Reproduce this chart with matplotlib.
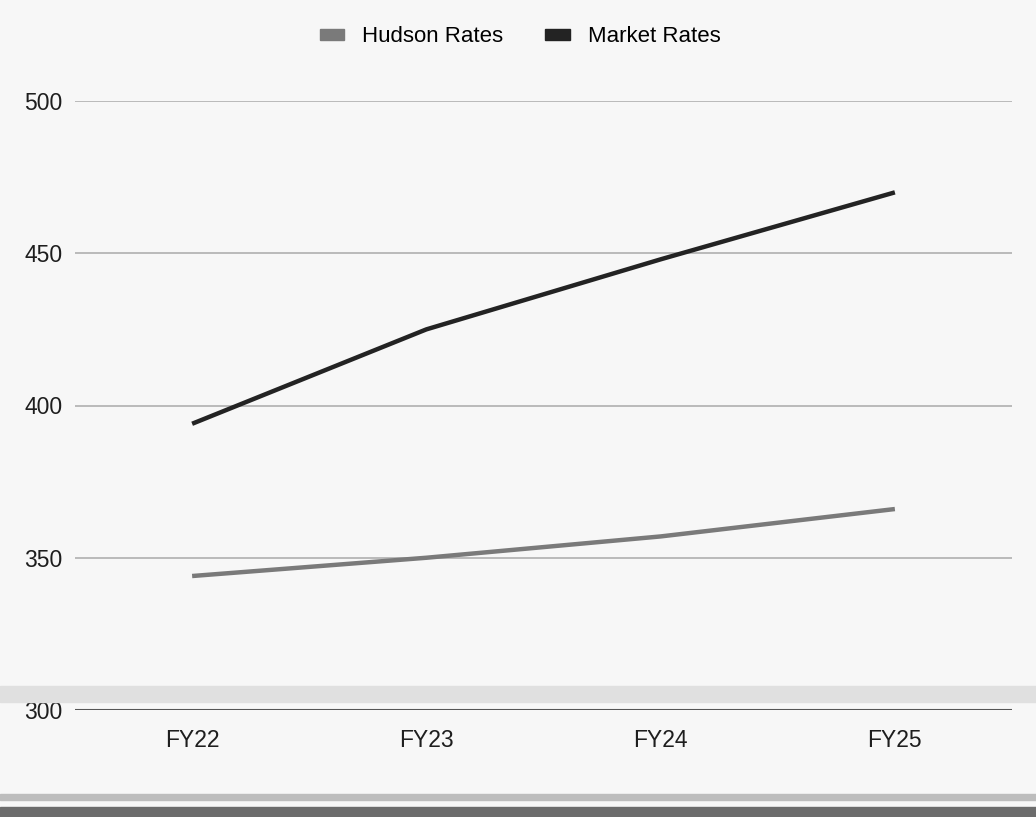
import matplotlib.pyplot as plt
from matplotlib.patches import Patch, Rectangle

plt.rcParams['font.family'] = ['Liberation Sans', 'DejaVu Sans']

years = ['FY22', 'FY23', 'FY24', 'FY25']
hudson_rates = [344, 350, 357, 366]
market_rates = [394, 425, 448, 470]

hudson_color = '#7a7a7a'
market_color = '#232323'

fig = plt.figure(figsize=(10.36, 8.17), dpi=100)
fig.patch.set_facecolor('#f7f7f7')

# scanner bands across the lower part of the page
fig.patches.append(Rectangle((0, 1 - 702 / 817), 1, 16 / 817, transform=fig.transFigure,
                             color='#e0e0e0', zorder=0))
fig.patches.append(Rectangle((0, 1 - 800 / 817), 1, 6 / 817, transform=fig.transFigure,
                             color='#bdbdbd', zorder=0))
fig.patches.append(Rectangle((0, 0), 1, 10 / 817, transform=fig.transFigure,
                             color='#6c6c6c', zorder=0))

ax = fig.add_axes([75 / 1036, 1 - 710 / 817, 937 / 1036, 609 / 817])
ax.set_facecolor('none')

x = range(len(years))
ax.plot(x, hudson_rates, color=hudson_color, lw=3.2, solid_capstyle='butt', zorder=3)
ax.plot(x, market_rates, color=market_color, lw=3.2, solid_capstyle='butt', zorder=3)

ax.set_xlim(-0.5, len(years) - 0.5)
ax.set_ylim(300, 500)
ax.set_yticks([300, 350, 400, 450, 500])
ax.set_xticks(list(x))
ax.set_xticklabels(years)
ax.grid(axis='y', color='#b0b0b0', lw=1.2)
ax.axhline(300, color='#555555', lw=1.5, zorder=2)

for s in ax.spines.values():
    s.set_visible(False)
ax.tick_params(length=0, labelsize=16.5, colors='#1e1e1e')
ax.tick_params(axis='y', pad=9)
ax.tick_params(axis='x', pad=14)

handles = [Patch(color=hudson_color, label='Hudson Rates'),
           Patch(color=market_color, label='Market Rates')]
fig.legend(handles=handles, loc='center', bbox_to_anchor=(520 / 1036, 1 - 37 / 817),
           ncol=2, frameon=False, fontsize=16, handlelength=1.1, handleheight=0.4,
           handletextpad=0.8, columnspacing=1.9)

fig.savefig('out.png', dpi=100, facecolor=fig.get_facecolor())
